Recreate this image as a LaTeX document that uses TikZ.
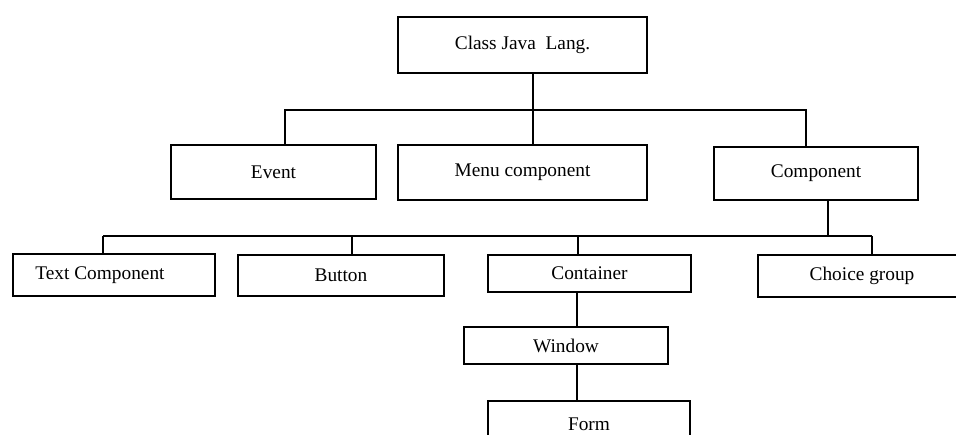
\documentclass[tikz,border=0pt]{standalone}
\usepackage{fontspec}
\setmainfont{Liberation Serif}
\begin{document}
\begin{tikzpicture}[x=0.75pt,y=-0.75pt,
  box/.style={draw, line width=1.3pt, inner sep=0pt, font=\fontsize{14.5}{16}\selectfont},
  link/.style={line width=1pt}]
\useasboundingbox (0,0) rectangle (956,435);
\clip (0,0) rectangle (956,435);

% class hierarchy boxes
\node[box, minimum width=186.75pt, minimum height=42pt]   (root)      at (522.5,45)  {Class Java\ \ Lang.};
\node[box, minimum width=153.75pt, minimum height=40.5pt] (event)     at (273.5,172) {Event};
\node[box, minimum width=186.75pt, minimum height=41.25pt](menu)      at (522.5,172.5) {Menu component};
\node[box, minimum width=153pt,    minimum height=39.75pt](comp)      at (816,173.5) {Component};
\node[box, minimum width=151.5pt,  minimum height=31.5pt,
      label={[font=\fontsize{14.5}{16}\selectfont, xshift=-10.5pt]center:Text Component}] (text) at (114,275) {};
\node[box, minimum width=154.5pt,  minimum height=30.75pt](button)    at (341,275.5) {Button};
\node[box, minimum width=152.25pt, minimum height=27.75pt](container) at (589.5,273.5) {Container};
\node[box, minimum width=174pt,    minimum height=31.5pt,
      label={[font=\fontsize{14.5}{16}\selectfont, xshift=-9pt]center:Choice group}] (choice) at (874,276) {};
\node[box, minimum width=153pt,    minimum height=27.75pt](window)    at (566,345.5) {Window};
\node[box, minimum width=151.5pt,  minimum height=45pt,
      label={[font=\fontsize{14.5}{16}\selectfont, yshift=5pt]center:Form}] (form) at (589,431) {};

% junction points of the connector buses
\coordinate (j0) at (533,110);
\coordinate (tEv) at (285,110);
\coordinate (tCo) at (806,110);
\coordinate (cD) at (828,236);
\coordinate (bT) at (103,236);
\coordinate (bB) at (352,236);
\coordinate (bC) at (578,236);
\coordinate (bH) at (872,236);
\coordinate (wx) at (577,310);

% first level
\draw[link] (root.south -| j0) -- (menu.north -| j0);
\draw[link] (event.north -| tEv) -- (tEv) -- (tCo) -- (comp.north -| tCo);

% second level
\draw[link] (comp.south -| cD) -- (cD);
\draw[link] (bT) -- (bH);
\draw[link] (bT) -- (text.north -| bT);
\draw[link] (bB) -- (button.north -| bB);
\draw[link] (bC) -- (container.north -| bC);
\draw[link] (bH) -- (choice.north -| bH);

% container chain
\draw[link] (container.south -| wx) -- (window.north -| wx);
\draw[link] (window.south -| wx) -- (form.north -| wx);
\end{tikzpicture}
\end{document}
